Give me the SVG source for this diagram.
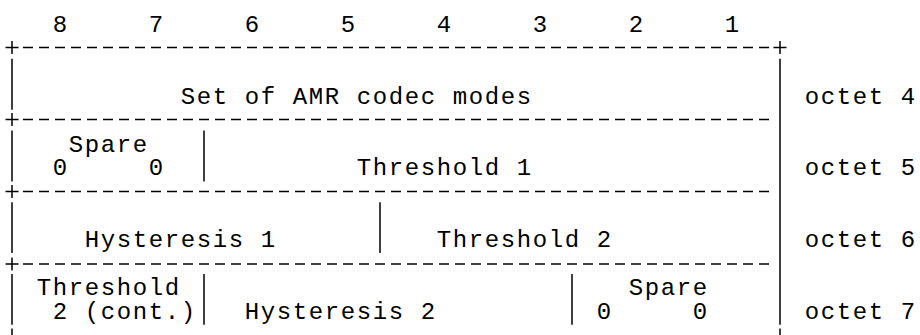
<svg xmlns="http://www.w3.org/2000/svg" width="920" height="335" viewBox="0 0 920 335">
  <style>
    text { font-family: "Liberation Mono", "Courier New", monospace; font-size: 24px; letter-spacing: 1.6px; fill: #000; }
    .bar { stroke: #000; stroke-width: 1.5; fill: none; }
    .dash { stroke: #000; stroke-width: 1.5; fill: none; stroke-dasharray: 10 6; }
  </style>
  <defs>
    <path id="plus" d="M-6.5 0H6.5M0 -6.5V6.5" class="bar"/>
  </defs>
  <rect width="920" height="335" fill="#fff"/>

  <g id="bit-numbers">
    <text x="52.8" y="32">8</text>
    <text x="148.8" y="32">7</text>
    <text x="244.8" y="32">6</text>
    <text x="340.8" y="32">5</text>
    <text x="436.8" y="32">4</text>
    <text x="532.8" y="32">3</text>
    <text x="628.8" y="32">2</text>
    <text x="724.8" y="32">1</text>
  </g>

  <g id="borders">
    <use href="#plus" x="12" y="47.5"/>
    <line class="dash" x1="23" y1="47.5" x2="769" y2="47.5"/>
    <use href="#plus" x="780" y="47.5"/>
    <use href="#plus" x="12" y="119.5"/>
    <line class="dash" x1="23" y1="119.5" x2="769" y2="119.5"/>
    <use href="#plus" x="12" y="191.5"/>
    <line class="dash" x1="23" y1="191.5" x2="769" y2="191.5"/>
    <use href="#plus" x="12" y="264"/>
    <line class="dash" x1="23" y1="264" x2="769" y2="264"/>
    <line class="bar" x1="12" y1="58.8" x2="12" y2="109.7"/>
    <line class="bar" x1="12" y1="130.5" x2="12" y2="181.4"/>
    <line class="bar" x1="12" y1="202.2" x2="12" y2="253.1"/>
    <line class="bar" x1="12" y1="274" x2="12" y2="324.8"/>
    <line class="bar" x1="12" y1="328.5" x2="12" y2="335"/>
    <line class="bar" x1="780" y1="58.8" x2="780" y2="324.8"/>
    <line class="bar" x1="780" y1="328.5" x2="780" y2="335"/>
  </g>

  <g id="octet4">
    <text x="180.8" y="103.7">Set of AMR codec modes</text>
    <text x="804.8" y="103.7">octet 4</text>
  </g>

  <g id="octet5-spare">
    <text x="68.8" y="151.5">Spare</text>
    <text x="52.8" y="175.4">0</text>
    <text x="148.8" y="175.4">0</text>
    <line class="bar" x1="204" y1="130.5" x2="204" y2="181.4"/>
  </g>
  <g id="octet5-threshold1">
    <text x="356.8" y="175.4">Threshold 1</text>
    <text x="804.8" y="175.4">octet 5</text>
  </g>

  <g id="octet6-hysteresis1">
    <text x="84.8" y="247.1">Hysteresis 1</text>
    <line class="bar" x1="380" y1="202.2" x2="380" y2="253.1"/>
  </g>
  <g id="octet6-threshold2">
    <text x="436.8" y="247.1">Threshold 2</text>
    <text x="804.8" y="247.1">octet 6</text>
  </g>

  <g id="octet7-threshold2-cont">
    <text x="36.8" y="294.9">Threshold</text>
    <text x="52.8" y="318.8">2 (cont.)</text>
    <line class="bar" x1="204" y1="274" x2="204" y2="324.8"/>
  </g>
  <g id="octet7-hysteresis2">
    <text x="244.8" y="318.8">Hysteresis 2</text>
    <line class="bar" x1="572" y1="274" x2="572" y2="324.8"/>
  </g>
  <g id="octet7-spare">
    <text x="628.8" y="294.9">Spare</text>
    <text x="596.8" y="318.8">0</text>
    <text x="692.8" y="318.8">0</text>
    <text x="804.8" y="318.8">octet 7</text>
  </g>
</svg>
